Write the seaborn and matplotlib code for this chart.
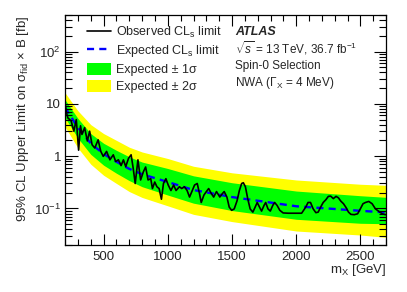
import numpy as np
import pandas as pd
import matplotlib
matplotlib.use("Agg")
import matplotlib.pyplot as plt
import matplotlib.ticker as mtick
from matplotlib.lines import Line2D
from matplotlib.patches import Patch
import seaborn as sns

# expected limit and bands (fb) vs mass (GeV)
mass_grid = [200, 300, 400, 500, 600, 700, 800, 1000, 1200, 1500, 2000, 2500, 2700]
expected = [8.5, 3.5, 1.75, 1.1, 0.78, 0.57, 0.45, 0.32, 0.225, 0.165, 0.11, 0.09, 0.084]
plus1 = [11.9, 5.25, 2.7, 1.76, 1.29, 0.97, 0.77, 0.58, 0.42, 0.31, 0.215, 0.175, 0.163]
minus1 = [5.4, 2.2, 1.08, 0.67, 0.47, 0.34, 0.26, 0.18, 0.126, 0.091, 0.062, 0.052, 0.051]
plus2 = [16.2, 7.35, 4.0, 2.7, 2.0, 1.48, 1.2, 0.9, 0.64, 0.48, 0.35, 0.29, 0.277]
minus2 = [3.6, 1.43, 0.7, 0.43, 0.30, 0.21, 0.162, 0.112, 0.077, 0.056, 0.037, 0.031, 0.028]

# observed limit
obs_mass = [200, 208, 221, 247, 268, 287, 305, 320, 331, 352, 373, 391, 410, 431, 457,
            478, 497, 523, 549, 575, 594, 615, 636, 654, 672, 694, 714, 730, 746, 767,
            788, 809, 827, 846, 867, 880, 898, 915, 932, 950, 966, 985, 1003, 1024,
            1045, 1064, 1090, 1108, 1129, 1150, 1169, 1187, 1208, 1229, 1247, 1260,
            1281, 1300, 1318, 1340, 1357, 1379, 1405, 1423, 1439, 1460, 1478, 1497,
            1517, 1539, 1557, 1575, 1588, 1604, 1623, 1641, 1662, 1680, 1696, 1714,
            1730, 1749, 1762, 1780, 1798, 1817, 1832, 1851, 1872, 1898, 1938, 1990,
            2042, 2074, 2092, 2111, 2132, 2153, 2171, 2190, 2210, 2231, 2250, 2268,
            2289, 2310, 2328, 2347, 2368, 2389, 2407, 2426, 2452, 2478, 2499, 2520,
            2539, 2565, 2591, 2617, 2643, 2669, 2695]
obs_limit = [10.4, 7.2, 5.4, 4.7, 3.0, 5.0, 1.3, 3.8, 2.6, 3.5, 1.95, 3.0, 1.65, 1.43, 2.05,
             1.23, 0.99, 1.23, 0.85, 1.06, 0.79, 0.85, 0.66, 0.85, 0.63, 0.91, 1.06, 0.59, 0.30, 0.85,
             0.35, 0.50, 0.62, 0.35, 0.37, 0.24, 0.32, 0.26, 0.24, 0.15, 0.30, 0.37, 0.28, 0.22,
             0.28, 0.22, 0.26, 0.24, 0.26, 0.22, 0.165, 0.21, 0.28, 0.30, 0.19, 0.13,
             0.18, 0.21, 0.24, 0.19, 0.165, 0.21, 0.165, 0.19, 0.21, 0.165, 0.106, 0.092,
             0.098, 0.14, 0.22, 0.30, 0.31, 0.26, 0.15, 0.098, 0.085, 0.106, 0.13, 0.106,
             0.089, 0.114, 0.13, 0.098, 0.089, 0.114, 0.13, 0.114, 0.092, 0.082, 0.081, 0.081,
             0.081, 0.106, 0.13, 0.13, 0.098, 0.083, 0.085, 0.106, 0.13, 0.147, 0.17, 0.172,
             0.154, 0.17, 0.16, 0.138, 0.123, 0.103, 0.085, 0.077, 0.076, 0.079, 0.098, 0.123,
             0.13, 0.136, 0.123, 0.098, 0.088, 0.079, 0.076]

ytick_vals = [0.1, 1, 10, 100]
ytick_labels = ["10$^{-1}$", "1", "10", "10$^{2}$"]
xtick_vals = [500, 1000, 1500, 2000, 2500]

sns.set_theme(style="ticks")
plt.rcParams["font.family"] = ["Liberation Sans", "DejaVu Sans"]
plt.rcParams["mathtext.fontset"] = "custom"
plt.rcParams["mathtext.rm"] = "Liberation Sans"
plt.rcParams["mathtext.it"] = "Liberation Sans:italic"
plt.rcParams["mathtext.bf"] = "Liberation Sans:bold"

fig = plt.figure(figsize=(4.07, 2.92), dpi=100)
ax = fig.add_axes([0.16, 0.161, 0.7887, 0.7877])
ax.set_axisbelow(False)

ax.fill_between(mass_grid, minus2, plus2, color="#ffff00", lw=0)
ax.fill_between(mass_grid, minus1, plus1, color="#00ff00", lw=0)

df_exp = pd.DataFrame({"mass": mass_grid, "limit": expected})
df_obs = pd.DataFrame({"mass": obs_mass, "limit": obs_limit})
sns.lineplot(data=df_exp, x="mass", y="limit", ax=ax, color="#0000ff", lw=1.7,
             dashes=False, linestyle=(0, (3, 2.2)))
sns.lineplot(data=df_obs, x="mass", y="limit", ax=ax, color="black", lw=1.2)

ax.set_yscale("log")
ax.set_xlim(200, 2700)
ax.set_ylim(0.02, 500)
ax.yaxis.set_major_locator(mtick.FixedLocator(ytick_vals))
ax.yaxis.set_major_formatter(mtick.FixedFormatter(ytick_labels))
ax.yaxis.set_minor_locator(mtick.LogLocator(base=10, subs=np.arange(2, 10)))
ax.yaxis.set_minor_formatter(mtick.NullFormatter())
ax.xaxis.set_major_locator(mtick.FixedLocator(xtick_vals))
ax.xaxis.set_minor_locator(mtick.MultipleLocator(100))

ax.tick_params(which="both", direction="in", top=True, right=True,
               labelsize=9.5, width=0.8, color="black")
ax.tick_params(axis="y", which="major", length=9, pad=3)
ax.tick_params(axis="y", which="minor", length=5)
ax.tick_params(axis="x", which="major", length=8, pad=4)
ax.tick_params(axis="x", which="minor", length=4)
for sp in ax.spines.values():
    sp.set_linewidth(0.9)
    sp.set_color("black")

ax.set_xlabel("m$_{\\mathrm{X}}$ [GeV]", fontsize=9.5, ha="right")
ax.xaxis.set_label_coords(1.0, -0.075)
ax.set_ylabel("95% CL Upper Limit on σ$_{\\mathrm{fid}}$ × B [fb]", fontsize=9.5)
ax.yaxis.set_label_coords(-0.105, 0.55)

handles = [
    Line2D([], [], color="black", lw=1.2),
    Line2D([], [], color="#0000ff", lw=1.7, linestyle=(0, (3, 2.2))),
    Patch(facecolor="#00ff00", edgecolor="none"),
    Patch(facecolor="#ffff00", edgecolor="none"),
]
labels = ["Observed CL$_{\\mathrm{s}}$ limit", "Expected CL$_{\\mathrm{s}}$ limit",
          "Expected ± 1σ", "Expected ± 2σ"]
ax.legend(handles, labels, loc="upper left", bbox_to_anchor=(0.068, 0.957),
          frameon=False, fontsize=9, handlelength=1.9, handleheight=1.1,
          handletextpad=0.4, labelspacing=0.28, borderpad=0, borderaxespad=0)

ax.text(0.53, 0.926, "ATLAS", transform=ax.transAxes, fontsize=9,
        fontweight="bold", fontstyle="italic", va="center")
ax.text(0.53, 0.857, "$\\sqrt{s}$ = 13 TeV, 36.7 fb$^{-1}$", transform=ax.transAxes,
        fontsize=8.5, va="center")
ax.text(0.53, 0.778, "Spin-0 Selection", transform=ax.transAxes, fontsize=8.5, va="center")
ax.text(0.53, 0.704, "NWA (Γ$_{\\mathrm{X}}$ = 4 MeV)", transform=ax.transAxes,
        fontsize=8.5, va="center")

fig.savefig("out.png", dpi=100)
